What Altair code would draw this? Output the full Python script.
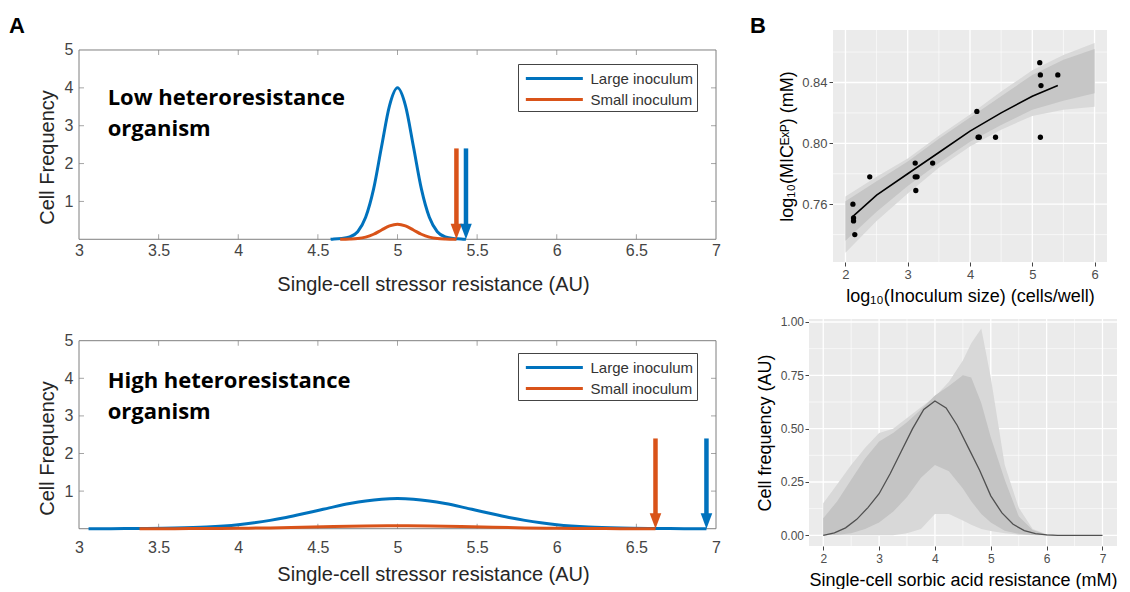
import altair as alt
import pandas as pd

FONT = "Liberation Sans"
ANNOT_FONT = "Open Sans"
BLUE = "#0072BD"
ORANGE = "#D95319"
AXC = "#444444"
BOXC = "#7f7f7f"
PANEL_BG = "#EBEBEB"
SERIES = ["Large inoculum", "Small inoculum"]
PANEL_LABELS = ["A", "B"]

# ---------------- Panel A, top: low heteroresistance organism ----------------
A1_LARGE_X = [4.58, 4.60, 4.65, 4.70, 4.75, 4.80, 4.85, 4.90, 4.95, 5.00,
              5.05, 5.10, 5.15, 5.20, 5.25, 5.30, 5.35, 5.40, 5.43]
A1_LARGE_Y = [0.00, 0.01, 0.02, 0.06, 0.20, 0.58, 1.33, 2.45, 3.53, 4.00,
              3.53, 2.45, 1.33, 0.58, 0.20, 0.06, 0.02, 0.01, 0.00]
A1_SMALL_X = [4.64, 4.70, 4.75, 4.80, 4.85, 4.90, 4.95, 5.00,
              5.05, 5.10, 5.15, 5.20, 5.25, 5.30, 5.37]
A1_SMALL_Y = [0.00, 0.006, 0.02, 0.058, 0.133, 0.245, 0.353, 0.40,
              0.353, 0.245, 0.133, 0.058, 0.02, 0.006, 0.00]
A1_ARROW_X = [5.37, 5.43]          # small, large inoculum MIC
A1_TEXT = "Low heteroresistance\norganism"

# ---------------- Panel A, bottom: high heteroresistance organism ----------------
A2_LARGE_X = [3.06, 3.2, 3.4, 3.6, 3.8, 4.0, 4.1, 4.2, 4.3, 4.4, 4.5, 4.6, 4.7, 4.8, 4.9, 5.0,
              5.1, 5.2, 5.3, 5.4, 5.5, 5.6, 5.7, 5.8, 5.9, 6.0, 6.2, 6.4, 6.6, 6.8, 6.94]
A2_LARGE_Y = [0.0, 0.001, 0.005, 0.016, 0.045, 0.108, 0.158, 0.222, 0.30, 0.389, 0.485, 0.581,
              0.668, 0.738, 0.784, 0.80, 0.784, 0.738, 0.668, 0.581, 0.485, 0.389, 0.30, 0.222,
              0.158, 0.108, 0.045, 0.016, 0.005, 0.001, 0.0]
A2_SMALL_X = [3.38, 3.6, 3.8, 4.0, 4.2, 4.4, 4.6, 4.8, 5.0, 5.2, 5.4, 5.6, 5.8, 6.0, 6.2, 6.4, 6.62]
A2_SMALL_Y = [0.0, 0.002, 0.005, 0.011, 0.022, 0.039, 0.058, 0.074, 0.08, 0.074, 0.058, 0.039,
              0.022, 0.011, 0.005, 0.002, 0.0]
A2_ARROW_X = [6.62, 6.94]
A2_TEXT = "High heteroresistance\norganism"

A_XTICKS = [3, 3.5, 4, 4.5, 5, 5.5, 6, 6.5, 7]
A_YTICKS = [1, 2, 3, 4, 5]
A_BOX_X = [3, 7]
A_BOX_Y = [0, 5]
ARROW_TOP = 2.4
ARROW_NECK = 0.35
TEXT_X = 3.18

# ---------------- Panel B, top: MIC vs inoculum ----------------
B1_PX = [2.12, 2.13, 2.13, 2.15, 2.39, 3.12, 3.12, 3.15, 3.13, 3.40,
         4.11, 4.13, 4.15, 4.41, 5.12, 5.13, 5.14, 5.41, 5.13]
B1_PY = [0.760, 0.751, 0.749, 0.740, 0.778, 0.787, 0.778, 0.778, 0.769, 0.787,
         0.821, 0.804, 0.804, 0.804, 0.853, 0.845, 0.838, 0.845, 0.804]
B1_LX = [2.12, 2.5, 3.0, 3.5, 4.0, 4.5, 5.0, 5.41]
B1_LY = [0.752, 0.766, 0.780, 0.794, 0.808, 0.820, 0.831, 0.838]
B1_BX = [2.0, 2.5, 3.0, 3.5, 4.0, 4.5, 5.0, 5.5, 6.0]
B1_OUT_LO = [0.728, 0.749, 0.767, 0.784, 0.798, 0.809, 0.818, 0.822, 0.824]
B1_OUT_HI = [0.765, 0.778, 0.790, 0.805, 0.819, 0.834, 0.848, 0.858, 0.866]
B1_IN_LO = [0.736, 0.755, 0.772, 0.787, 0.801, 0.812, 0.822, 0.828, 0.833]
B1_IN_HI = [0.762, 0.775, 0.788, 0.803, 0.817, 0.831, 0.845, 0.855, 0.862]
B1_XMAJ = [2, 3, 4, 5, 6]
B1_XMIN = [2.5, 3.5, 4.5, 5.5]
B1_YMAJ = [0.76, 0.80, 0.84]
B1_YMIN = [0.74, 0.78, 0.82, 0.86]
B1_XDOM = [1.4146, 6.2]
B1_YDOM = [0.722, 0.8745]
B1_PANEL_X = [1.8, 6.2]

# ---------------- Panel B, bottom: single-cell resistance distribution ----------------
B2_MX = [2.0, 2.2, 2.4, 2.6, 2.8, 3.0, 3.2, 3.4, 3.6, 3.8, 4.0, 4.2, 4.4, 4.6, 4.8,
         5.0, 5.2, 5.4, 5.6, 5.8, 6.0, 6.2, 6.4, 6.6, 6.8, 7.0]
B2_MY = [0.0, 0.012, 0.035, 0.075, 0.13, 0.195, 0.29, 0.395, 0.50, 0.59, 0.63, 0.597,
         0.515, 0.41, 0.305, 0.185, 0.105, 0.052, 0.022, 0.008, 0.002, 0.0, 0.0, 0.0, 0.0, 0.0]
B2_BX = [2.0, 2.25, 2.5, 2.75, 3.0, 3.25, 3.5, 3.75, 4.0, 4.25, 4.5, 4.65, 4.83,
         5.0, 5.25, 5.5, 5.75, 6.0, 6.25]
B2_OUT_HI = [0.15, 0.24, 0.33, 0.41, 0.48, 0.50, 0.55, 0.60, 0.65, 0.72, 0.82, 0.90, 0.97,
             0.74, 0.33, 0.13, 0.03, 0.005, 0.0]
B2_OUT_LO = [0.0, 0.0, 0.0, 0.0, 0.0, 0.0, 0.01, 0.03, 0.10, 0.10, 0.07, 0.05, 0.03,
             0.02, 0.01, 0.003, 0.0, 0.0, 0.0]
B2_IN_HI = [0.08, 0.16, 0.26, 0.36, 0.44, 0.48, 0.53, 0.59, 0.655, 0.70, 0.75, 0.74, 0.62,
            0.46, 0.26, 0.09, 0.025, 0.004, 0.0]
B2_IN_LO = [0.0, 0.003, 0.01, 0.03, 0.06, 0.11, 0.18, 0.27, 0.33, 0.30, 0.22, 0.16, 0.10,
            0.06, 0.022, 0.007, 0.002, 0.0, 0.0]
B2_XMAJ = [2, 3, 4, 5, 6, 7]
B2_XMIN = [2.5, 3.5, 4.5, 5.5, 6.5]
B2_YMAJ = [0, 0.25, 0.5, 0.75, 1.0]
B2_YMIN = [0.125, 0.375, 0.625, 0.875]
B2_XDOM = [1.745, 7.26]
B2_YDOM = [-0.05, 1.014]

LEGEND_LINE = "M-0.7,0L5.3,0"


def a_panel(large_x, large_y, small_x, small_y, arrows, text, text_y, ydom, xoffset,
            label_pad, ytitle_y, legend_y, letter, height):
    xs = alt.Scale(domain=[3, 7], nice=False, zero=False)
    ys = alt.Scale(domain=ydom, nice=False, zero=False)
    xaxis = alt.Axis(values=A_XTICKS, format="~g", grid=False, domain=False, ticks=False,
                     tickSize=0, labelFontSize=16, labelColor=AXC, labelPadding=label_pad,
                     labelFlush=False, labelOverlap=False,
                     offset=xoffset, title="Single-cell stressor resistance (AU)",
                     titleFontSize=20, titleColor="#262626", titleX=354, titleY=45,
                     titleBaseline="middle", titleAlign="center")
    yaxis = alt.Axis(values=A_YTICKS, grid=False, domain=False, ticks=False, tickSize=0,
                     labelFontSize=16, labelColor=AXC, labelPadding=6,
                     labelFlush=False, labelOverlap=False,
                     title="Cell Frequency", titleFontSize=20, titleColor="#262626",
                     titleX=-32, titleY=ytitle_y, titleBaseline="middle", titleAlign="center",
                     titleAngle=-90)

    def X(f="x:Q"):
        return alt.X(f, scale=xs, axis=xaxis)

    def Y(f="y:Q"):
        return alt.Y(f, scale=ys, axis=yaxis)

    box = alt.Chart(pd.DataFrame({"x": [A_BOX_X[0]], "x2": [A_BOX_X[1]],
                                  "y": [A_BOX_Y[0]], "y2": [A_BOX_Y[1]]})).mark_rect(
        fill=None, stroke=BOXC, strokeWidth=1).encode(x=X(), x2="x2:Q", y=Y(), y2="y2:Q")

    inner_x = A_XTICKS[1:-1]
    inner_y = A_YTICKS[:-1]
    tb = alt.Chart(pd.DataFrame({"x": inner_x, "y": [A_BOX_Y[0]] * len(inner_x)})).mark_tick(
        orient="vertical", size=5, thickness=1, yOffset=-2.5, color=BOXC).encode(x=X(), y=Y())
    tt = alt.Chart(pd.DataFrame({"x": inner_x, "y": [A_BOX_Y[1]] * len(inner_x)})).mark_tick(
        orient="vertical", size=5, thickness=1, yOffset=2.5, color=BOXC).encode(x=X(), y=Y())
    tl = alt.Chart(pd.DataFrame({"x": [A_BOX_X[0]] * len(inner_y), "y": inner_y})).mark_tick(
        orient="horizontal", size=5, thickness=1, xOffset=2.5, color=BOXC).encode(x=X(), y=Y())
    tr = alt.Chart(pd.DataFrame({"x": [A_BOX_X[1]] * len(inner_y), "y": inner_y})).mark_tick(
        orient="horizontal", size=5, thickness=1, xOffset=-2.5, color=BOXC).encode(x=X(), y=Y())

    df = pd.concat([
        pd.DataFrame({"x": large_x, "y": large_y, "series": SERIES[0]}),
        pd.DataFrame({"x": small_x, "y": small_y, "series": SERIES[1]}),
    ])
    legend = alt.Legend(orient="none", legendX=439, legendY=legend_y, title=None,
                        symbolType=LEGEND_LINE, symbolSize=361, symbolStrokeWidth=3,
                        symbolFillColor="transparent",
                        labelFontSize=15, labelFont=FONT, labelColor="#333333",
                        fillColor="white", strokeColor="#444444", padding=3.5,
                        rowPadding=2, labelOffset=47, direction="vertical")
    lines = alt.Chart(df).mark_line(strokeWidth=3, interpolate="monotone").encode(
        x=X(), y=Y(),
        color=alt.Color("series:N", scale=alt.Scale(domain=SERIES, range=[BLUE, ORANGE]),
                        legend=legend))

    layers = [box, tb, tt, tl, tr, lines]
    for ax, col in [(arrows[0], ORANGE), (arrows[1], BLUE)]:
        shaft = alt.Chart(pd.DataFrame({"x": [ax], "y": [ARROW_TOP], "y2": [ARROW_NECK]})
                          ).mark_rule(strokeWidth=4.5, color=col).encode(
            x=X(), y=Y(), y2="y2:Q")
        head = alt.Chart(pd.DataFrame({"x": [ax], "y": [0]})).mark_point(
            shape="M-0.75,-1L0.75,-1L0,1Z", size=240, filled=True, opacity=1,
            strokeWidth=0, color=col, yOffset=-7.75).encode(x=X(), y=Y())
        layers += [shaft, head]

    annot = alt.Chart(pd.DataFrame({"x": [TEXT_X], "y": [text_y], "t": [text]})).mark_text(
        align="left", baseline="alphabetic", font=ANNOT_FONT, fontWeight="bold",
        fontSize=22, lineBreak="\n", lineHeight=31, color="black").encode(
        x=X(), y=Y(), text="t:N")
    layers.append(annot)

    if letter is not None:
        lab = alt.Chart(pd.DataFrame({"label": [letter]})).mark_text(
            align="left", baseline="alphabetic", font=FONT, fontWeight="bold",
            fontSize=22, color="black").encode(
            x=alt.value(-70), y=alt.value(3), text="label:N")
        layers.append(lab)

    return alt.layer(*layers).properties(width=637, height=height)


A1 = a_panel(A1_LARGE_X, A1_LARGE_Y, A1_SMALL_X, A1_SMALL_Y, A1_ARROW_X, A1_TEXT, 3.55,
             [-0.6, 5.528], -23, 3, 127, 34, PANEL_LABELS[0], 232)
A2 = a_panel(A2_LARGE_X, A2_LARGE_Y, A2_SMALL_X, A2_SMALL_Y, A2_ARROW_X, A2_TEXT, 3.74,
             [-0.46, 5.577], -17, 10, 129, 34, None, 227)


def b_panel(xdom, ydom, panel_x, xaxis, yaxis, band_df, outer_col, inner_col,
            xmaj, xmin, ymaj, ymin, extra, width, height):
    xs = alt.Scale(domain=xdom, nice=False, zero=False)
    ys = alt.Scale(domain=ydom, nice=False, zero=False)

    def X(f="x:Q"):
        return alt.X(f, scale=xs, axis=xaxis)

    def Y(f="y:Q"):
        return alt.Y(f, scale=ys, axis=yaxis)

    layers = [alt.Chart(pd.DataFrame({"x": [panel_x[0]], "x2": [panel_x[1]],
                                      "y": [ydom[0]], "y2": [ydom[1]]})).mark_rect(
        color=PANEL_BG).encode(x=X(), x2="x2:Q", y=Y(), y2="y2:Q")]
    for vals, w in [(xmin, 0.6), (xmaj, 1.3)]:
        layers.append(alt.Chart(pd.DataFrame({"x": vals})).mark_rule(
            color="white", strokeWidth=w).encode(x=X()))
    for vals, w in [(ymin, 0.6), (ymaj, 1.3)]:
        layers.append(alt.Chart(pd.DataFrame({"y": vals, "x": [panel_x[0]] * len(vals),
                                              "x2": [panel_x[1]] * len(vals)})).mark_rule(
            color="white", strokeWidth=w).encode(x=X(), x2="x2:Q", y=Y()))
    layers.append(alt.Chart(band_df).mark_area(color=outer_col).encode(
        x=X(), y=Y("olo:Q"), y2="ohi:Q"))
    layers.append(alt.Chart(band_df).mark_area(color=inner_col).encode(
        x=X(), y=Y("ilo:Q"), y2="ihi:Q"))
    for item in extra:
        layers.append(item(X, Y))
    return alt.layer(*layers).properties(width=width, height=height)


# ---------- B1 ----------
b1_xaxis = alt.Axis(values=B1_XMAJ, format="d", grid=False, domain=False, tickSize=4,
                    tickColor=AXC, labelPadding=2, labelFontSize=13, labelColor="#4D4D4D",
                    labelFlush=False, labelOverlap=False,
                    title="log₁₀(Inoculum size) (cells/well)", titleFontSize=18,
                    titleColor="black", titleX=161, titleY=34, titleBaseline="middle",
                    titleAlign="center")
b1_yaxis = alt.Axis(values=B1_YMAJ, format=".2f", grid=False, domain=False, tickSize=4,
                    tickColor=AXC, labelPadding=2, labelFontSize=13, labelColor="#4D4D4D",
                    labelFlush=False, labelOverlap=False,
                    offset=-24, title="log₁₀(MICᴱˣᴾ) (mM)", titleFontSize=18,
                    titleColor="black", titlePadding=5)
b1_band_df = pd.DataFrame({"x": B1_BX, "olo": B1_OUT_LO, "ohi": B1_OUT_HI,
                           "ilo": B1_IN_LO, "ihi": B1_IN_HI})
b1_extra = [
    lambda X, Y: alt.Chart(pd.DataFrame({"x": B1_LX, "y": B1_LY})).mark_line(
        color="black", strokeWidth=1.6).encode(x=X(), y=Y()),
    lambda X, Y: alt.Chart(pd.DataFrame({"x": B1_PX, "y": B1_PY})).mark_circle(
        color="black", size=28, opacity=1).encode(x=X(), y=Y()),
    lambda X, Y: alt.Chart(pd.DataFrame({"label": [PANEL_LABELS[1]]})).mark_text(
        align="left", baseline="alphabetic", font=FONT, fontWeight="bold", fontSize=22,
        color="black").encode(x=alt.value(-59), y=alt.value(3), text="label:N"),
]
B1 = b_panel(B1_XDOM, B1_YDOM, B1_PANEL_X, b1_xaxis, b1_yaxis, b1_band_df,
             "#D9D9D9", "#C6C6C6", B1_XMAJ, B1_XMIN, B1_YMAJ, B1_YMIN, b1_extra, 298, 232)

# ---------- B2 ----------
b2_xaxis = alt.Axis(values=B2_XMAJ, format="d", grid=False, domain=False, tickSize=4,
                    tickColor=AXC, labelPadding=3, labelFontSize=12, labelColor="#4D4D4D",
                    labelFlush=False, labelOverlap=False,
                    title="Single-cell sorbic acid resistance (mM)", titleFontSize=18,
                    titleColor="black", titlePadding=7)
b2_yaxis = alt.Axis(values=B2_YMAJ, format=".2f", grid=False, domain=False, tickSize=4,
                    tickColor=AXC, labelPadding=1.5, labelFontSize=12, labelColor="#4D4D4D",
                    labelFlush=False, labelOverlap=False,
                    title="Cell frequency (AU)", titleFontSize=18, titleColor="black",
                    titlePadding=6)
b2_band_df = pd.DataFrame({"x": B2_BX, "olo": B2_OUT_LO, "ohi": B2_OUT_HI,
                           "ilo": B2_IN_LO, "ihi": B2_IN_HI})
b2_extra = [
    lambda X, Y: alt.Chart(pd.DataFrame({"x": B2_MX, "y": B2_MY})).mark_line(
        color="#505050", strokeWidth=1.3).encode(x=X(), y=Y()),
]
B2 = b_panel(B2_XDOM, B2_YDOM, B2_XDOM, b2_xaxis, b2_yaxis, b2_band_df,
             "#D8D8D8", "#C4C4C4", B2_XMAJ, B2_XMIN, B2_YMAJ, B2_YMIN, b2_extra, 308, 227)

chart = alt.concat(A1, B1, A2, B2, columns=2, spacing={"row": 57, "column": 93},
                   bounds="flush", align="each").resolve_scale(
    x="independent", y="independent", color="independent").resolve_legend(
    color="independent").properties(
    padding={"left": 1, "top": 7, "right": 0, "bottom": 0}).configure(
    font=FONT).configure_view(strokeWidth=0, stroke="transparent").configure_axis(
    titleFontWeight="normal", labelFont=FONT, titleFont=FONT)

chart.save("out.html", embed_options={"renderer": "svg", "actions": False})
